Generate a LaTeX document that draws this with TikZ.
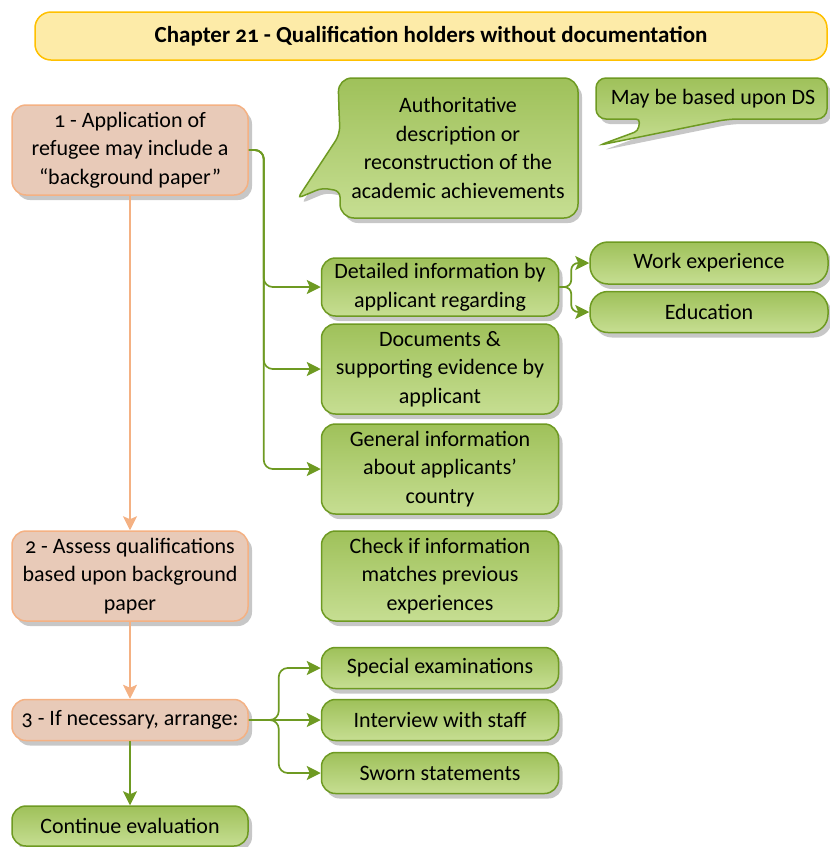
\documentclass[tikz,border=0pt]{standalone}
\usepackage{fontspec}
\setmainfont{Carlito}[Numbers=OldStyle]
\usetikzlibrary{arrows.meta, positioning, shadows}
\definecolor{TitleFill}{HTML}{FDEBA8}
\definecolor{TitleLine}{HTML}{FFC000}
\definecolor{StepFill}{HTML}{E8CAB8}
\definecolor{StepLine}{HTML}{F4B183}
\definecolor{LeafDark}{HTML}{9FC15A}
\definecolor{LeafLight}{HTML}{C6DE92}
\definecolor{LeafLine}{HTML}{6E9A22}

\begin{document}
\begin{tikzpicture}[x=1pt, y=-1pt, font=\fontsize{22}{28.5}\selectfont,
    boxshadow/.style={drop shadow={shadow xshift=4pt, shadow yshift=-5pt, fill=black!22, opacity=1}},
    titlebox/.style={draw=TitleLine, fill=TitleFill, line width=1.5pt, rounded corners=16pt,
      minimum width=792pt, minimum height=48pt, font=\bfseries\fontsize{23}{26}\selectfont},
    stepbox/.style={draw=StepLine, fill=StepFill, line width=1.5pt, rounded corners=14pt,
      minimum width=236pt, align=center, inner sep=1pt, boxshadow},
    leafbox/.style={draw=LeafLine, top color=LeafDark, bottom color=LeafLight, line width=1.5pt,
      rounded corners=14pt, minimum width=237pt, align=center, inner sep=1pt, boxshadow},
    callout/.style={draw=LeafLine, top color=LeafDark, bottom color=LeafLight, line width=1.5pt, boxshadow},
    greenline/.style={draw=LeafLine, line width=1.7pt, rounded corners=9pt,
      -{Stealth[length=14pt, width=14pt, inset=3pt]}},
    orangeline/.style={draw=StepLine, line width=1.7pt,
      -{Stealth[length=14pt, width=14pt, inset=3pt]}}]
  \useasboundingbox (0,0) rectangle (830,847);

  % title
  \node[titlebox] (title) at (431,36) {Chapter 21 - Qualification holders without documentation};

  % left column
  \node[stepbox, minimum height=90pt] (app) at (130,150) {1 - Application of\\refugee may include a\\``background paper''};
  \node[stepbox, minimum height=90pt] (assess) at (130,576) {2 - Assess qualifications\\based upon background\\paper};
  \node[stepbox, minimum height=41pt] (arrange) at (130,720) {3 - If necessary, arrange:};
  \node[leafbox, minimum height=40pt, minimum width=236pt] (cont) at (130,826) {Continue evaluation};

  % callouts
  \path[callout] (339,110) [rounded corners=14pt] -- (338,78) -- (578,78) -- (578,218) -- (340,218)
    [rounded corners=6pt] -- (340,191) -- (322,188) [rounded corners=4pt] -- (298,198)
    [rounded corners=8pt] -- (340,134) [sharp corners] -- cycle;
  \node[align=center] (auth) at (458,148) {Authoritative\\description or\\reconstruction of the\\academic achievements};
  \path[callout] (700,78) [rounded corners=10pt] -- (827,78) -- (827,119) -- (728,119)
    [rounded corners=4pt] -- (600,145) -- (638,131) -- (640,119)
    [rounded corners=10pt] -- (596,119) -- (596,78) [sharp corners] -- cycle;
  \node (basis) at (713,99) {May be based upon DS};

  % middle column
  \node[leafbox, minimum height=58pt] (detail) at (440,287) {Detailed information by\\applicant regarding};
  \node[leafbox, minimum height=90pt] (docs) at (440,369) {Documents \&\\supporting evidence by\\applicant};
  \node[leafbox, minimum height=90pt] (gen) at (440,469) {General information\\about applicants'\\country};
  \node[leafbox, minimum height=90pt] (check) at (440,576) {Check if information\\matches previous\\experiences};
  \node[leafbox, minimum height=41pt] (special) at (440,668) {Special examinations};
  \node[leafbox, minimum height=41pt] (interview) at (440,720) {Interview with staff};
  \node[leafbox, minimum height=41pt] (sworn) at (440,773) {Sworn statements};

  % right column
  \node[leafbox, minimum height=42pt, minimum width=238pt, rounded corners=18pt] (work) at (709,263) {Work experience};
  \node[leafbox, minimum height=41pt, minimum width=238pt, rounded corners=18pt] (edu) at (709,312) {Education};

  % connectors
  \draw[greenline] (app.east) -- ++(15,0) |- (detail.west);
  \draw[greenline] (app.east) -- ++(15,0) |- (docs.west);
  \draw[greenline] (app.east) -- ++(15,0) |- (gen.west);
  \draw[orangeline] (app.south) -- (assess.north);
  \draw[orangeline] (assess.south) -- (arrange.north);
  \draw[greenline] (arrange.south) -- (cont.north);
  \draw[greenline] (arrange.east) -- ++(30,0) |- (special.west);
  \draw[greenline] (arrange.east) -- (interview.west);
  \draw[greenline] (arrange.east) -- ++(30,0) |- (sworn.west);
  \draw[greenline, rounded corners=7pt] (detail.east) -- ++(12,0) |- (work.west);
  \draw[greenline, rounded corners=7pt] (detail.east) -- ++(12,0) |- (edu.west);
\end{tikzpicture}
\end{document}
